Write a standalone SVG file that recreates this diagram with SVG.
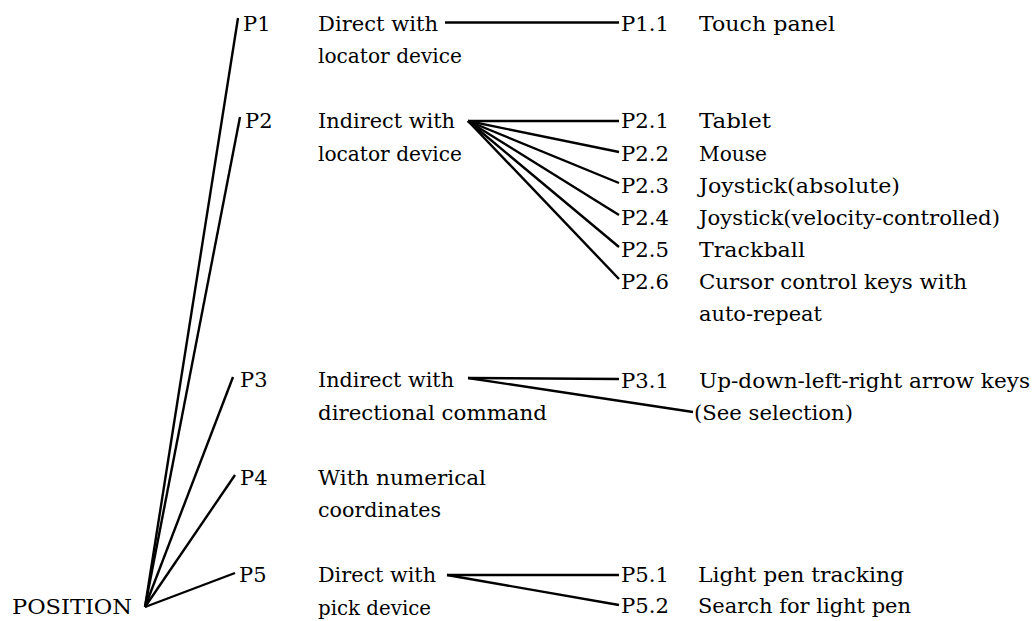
<svg xmlns="http://www.w3.org/2000/svg" width="1034" height="621" viewBox="0 0 1034 621">
  <style>
    text { font-family: "DejaVu Serif", "Liberation Serif", serif; font-size: 21px; fill: #000; }
    .link { stroke: #000; stroke-width: 2.4; fill: none; stroke-linecap: butt; }
  </style>
  <rect width="1034" height="621" fill="#fff"/>

  <g id="connectors">
    <!-- root to the five position methods -->
    <line class="link" x1="145" y1="607" x2="238" y2="18"/>
    <line class="link" x1="145" y1="607" x2="240" y2="117"/>
    <line class="link" x1="145" y1="607" x2="233" y2="377"/>
    <line class="link" x1="145" y1="607" x2="235" y2="475"/>
    <line class="link" x1="145" y1="607" x2="235" y2="573"/>
    <!-- P1 -->
    <line class="link" x1="445" y1="22.5" x2="619" y2="22.5"/>
    <!-- P2 fan -->
    <line class="link" x1="468" y1="121" x2="619" y2="121"/>
    <line class="link" x1="468" y1="121" x2="619" y2="152"/>
    <line class="link" x1="468" y1="121" x2="619" y2="183"/>
    <line class="link" x1="468" y1="121" x2="619" y2="215"/>
    <line class="link" x1="468" y1="121" x2="619" y2="247"/>
    <line class="link" x1="468" y1="121" x2="619" y2="279"/>
    <!-- P3 -->
    <line class="link" x1="468" y1="378" x2="619" y2="379"/>
    <line class="link" x1="468" y1="378" x2="693" y2="412"/>
    <!-- P5 -->
    <line class="link" x1="447" y1="575" x2="619" y2="575"/>
    <line class="link" x1="447" y1="575" x2="619" y2="605"/>
  </g>

  <g id="position">
    <text x="12" y="614" textLength="120" lengthAdjust="spacingAndGlyphs">POSITION</text>
  </g>

  <g id="p1">
    <text x="243" y="31">P1</text>
    <text x="318" y="31" textLength="120" lengthAdjust="spacingAndGlyphs">Direct with</text>
    <text x="318" y="63" textLength="144" lengthAdjust="spacingAndGlyphs">locator device</text>
  </g>
  <g id="p1-1">
    <text x="621" y="31" textLength="48" lengthAdjust="spacingAndGlyphs">P1.1</text>
    <text x="699" y="31" textLength="136" lengthAdjust="spacingAndGlyphs">Touch panel</text>
  </g>

  <g id="p2">
    <text x="245" y="128">P2</text>
    <text x="318" y="128" textLength="137" lengthAdjust="spacingAndGlyphs">Indirect with</text>
    <text x="318" y="161" textLength="144" lengthAdjust="spacingAndGlyphs">locator device</text>
  </g>
  <g id="p2-1">
    <text x="621" y="128" textLength="48" lengthAdjust="spacingAndGlyphs">P2.1</text>
    <text x="699" y="128" textLength="72" lengthAdjust="spacingAndGlyphs">Tablet</text>
  </g>
  <g id="p2-2">
    <text x="621" y="161" textLength="48" lengthAdjust="spacingAndGlyphs">P2.2</text>
    <text x="699" y="161" textLength="68" lengthAdjust="spacingAndGlyphs">Mouse</text>
  </g>
  <g id="p2-3">
    <text x="621" y="193" textLength="48" lengthAdjust="spacingAndGlyphs">P2.3</text>
    <text x="699" y="193" textLength="201" lengthAdjust="spacingAndGlyphs">Joystick(absolute)</text>
  </g>
  <g id="p2-4">
    <text x="621" y="225" textLength="48" lengthAdjust="spacingAndGlyphs">P2.4</text>
    <text x="699" y="225" textLength="301" lengthAdjust="spacingAndGlyphs">Joystick(velocity-controlled)</text>
  </g>
  <g id="p2-5">
    <text x="621" y="257" textLength="48" lengthAdjust="spacingAndGlyphs">P2.5</text>
    <text x="699" y="257" textLength="106" lengthAdjust="spacingAndGlyphs">Trackball</text>
  </g>
  <g id="p2-6">
    <text x="621" y="289" textLength="48" lengthAdjust="spacingAndGlyphs">P2.6</text>
    <text x="699" y="289" textLength="268" lengthAdjust="spacingAndGlyphs">Cursor control keys with</text>
    <text x="699" y="321" textLength="123" lengthAdjust="spacingAndGlyphs">auto-repeat</text>
  </g>

  <g id="p3">
    <text x="240" y="387">P3</text>
    <text x="318" y="387" textLength="136" lengthAdjust="spacingAndGlyphs">Indirect with</text>
    <text x="318" y="420" textLength="229" lengthAdjust="spacingAndGlyphs">directional command</text>
  </g>
  <g id="p3-1">
    <text x="621" y="388" textLength="48" lengthAdjust="spacingAndGlyphs">P3.1</text>
    <text x="699" y="388" textLength="331" lengthAdjust="spacingAndGlyphs">Up-down-left-right arrow keys</text>
  </g>
  <g id="see-selection">
    <text x="694" y="420" textLength="159" lengthAdjust="spacingAndGlyphs">(See selection)</text>
  </g>

  <g id="p4">
    <text x="240" y="485">P4</text>
    <text x="318" y="485" textLength="168" lengthAdjust="spacingAndGlyphs">With numerical</text>
    <text x="318" y="517" textLength="123" lengthAdjust="spacingAndGlyphs">coordinates</text>
  </g>

  <g id="p5">
    <text x="239" y="582">P5</text>
    <text x="318" y="582" textLength="118" lengthAdjust="spacingAndGlyphs">Direct with</text>
    <text x="318" y="615" textLength="113" lengthAdjust="spacingAndGlyphs">pick device</text>
  </g>
  <g id="p5-1">
    <text x="621" y="582" textLength="48" lengthAdjust="spacingAndGlyphs">P5.1</text>
    <text x="698" y="582" textLength="206" lengthAdjust="spacingAndGlyphs">Light pen tracking</text>
  </g>
  <g id="p5-2">
    <text x="621" y="613" textLength="48" lengthAdjust="spacingAndGlyphs">P5.2</text>
    <text x="698" y="613" textLength="213" lengthAdjust="spacingAndGlyphs">Search for light pen</text>
  </g>
</svg>
